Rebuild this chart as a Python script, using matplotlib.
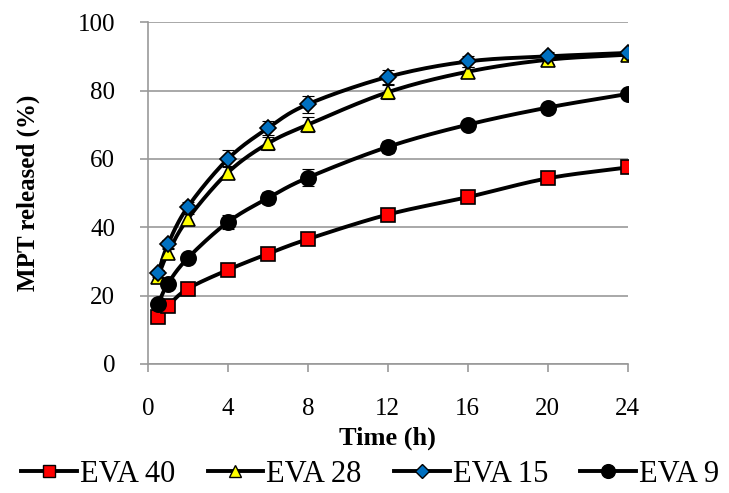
import numpy as np
import matplotlib.pyplot as plt

plt.rcParams['font.family'] = ['Liberation Serif', 'DejaVu Serif']

# release profile, sampling times in hours
time_h = [0.5, 1, 2, 4, 6, 8, 12, 16, 20, 24]

eva40 = [13.7, 17.0, 22.0, 27.5, 32.2, 36.5, 43.7, 48.8, 54.3, 57.5]
eva40_sd = [0.8, 0.8, 0.9, 1.0, 1.0, 1.0, 1.2, 1.2, 1.2, 1.2]
eva28 = [25.5, 32.5, 42.5, 56.0, 64.5, 70.0, 79.5, 85.5, 89.0, 90.5]
eva28_sd = [1.0, 1.2, 1.5, 2.0, 2.0, 2.2, 2.0, 1.5, 1.2, 1.0]
eva15 = [26.5, 35.0, 46.0, 60.0, 69.0, 76.0, 84.0, 88.5, 90.0, 91.0]
eva15_sd = [1.0, 1.2, 1.5, 2.5, 2.0, 2.5, 2.0, 1.5, 1.2, 1.0]
eva9 = [17.5, 23.5, 31.0, 41.5, 48.5, 54.5, 63.5, 70.0, 75.0, 79.0]
eva9_sd = [1.0, 1.2, 1.5, 2.0, 1.8, 2.5, 1.8, 1.2, 1.0, 1.0]


def smooth(x, y, n=20):
    # Catmull-Rom curve through the points, like a spreadsheet "smoothed line"
    x = np.asarray(x, float)
    y = np.asarray(y, float)
    px = np.concatenate([[2 * x[0] - x[1]], x, [2 * x[-1] - x[-2]]])
    py = np.concatenate([[2 * y[0] - y[1]], y, [2 * y[-1] - y[-2]]])
    xs, ys = [], []
    t = np.linspace(0, 1, n)
    for i in range(1, len(px) - 2):
        for p, out in ((px, xs), (py, ys)):
            p0, p1, p2, p3 = p[i - 1], p[i], p[i + 1], p[i + 2]
            out.append(0.5 * (2 * p1 + (-p0 + p2) * t
                              + (2 * p0 - 5 * p1 + 4 * p2 - p3) * t ** 2
                              + (-p0 + 3 * p1 - 3 * p2 + p3) * t ** 3))
    return np.concatenate(xs), np.concatenate(ys)


fig = plt.figure(figsize=(7.29, 4.93), dpi=100)
ax = fig.add_axes([0.203, 0.262, 0.658, 0.693])

series = [
    ('EVA 40', eva40, eva40_sd, 's', '#ff0000', 10),
    ('EVA 28', eva28, eva28_sd, '^', '#ffff00', 10),
    ('EVA 15', eva15, eva15_sd, 'D', '#0070c0', 8),
    ('EVA 9', eva9, eva9_sd, 'o', '#000000', 11),
]

handles = []
for name, y, sd, mk, col, ms in series:
    ax.errorbar(time_h, y, yerr=sd, fmt='none', ecolor='black',
                elinewidth=0.8, capsize=4, capthick=0.8, zorder=2)
    sx, sy = smooth(time_h, y)
    ax.plot(sx, sy, color='black', lw=2.8, zorder=3)
    ax.plot(time_h, y, ls='none', marker=mk, ms=ms, mfc=col,
            mec='black', mew=1.2, zorder=4)
    h, = ax.plot([], [], color='black', lw=2.8, marker=mk, ms=ms * 0.9,
                 mfc=col, mec='black', mew=1.0)
    handles.append((h, name))

ax.set_xlim(0, 24)
ax.set_ylim(0, 100)
ax.set_xticks(range(0, 25, 4))
ax.set_yticks(range(0, 101, 20))
ax.yaxis.grid(True, color='#999999', lw=1.2)
ax.set_axisbelow(True)
for s in ['top', 'right']:
    ax.spines[s].set_visible(False)
for s in ['left', 'bottom']:
    ax.spines[s].set_color('#999999')
    ax.spines[s].set_linewidth(1.2)
ax.tick_params(axis='both', colors='#999999', labelcolor='black',
               labelsize=18, length=5.5, width=1.2)
ax.tick_params(axis='x', pad=19)
ax.tick_params(axis='y', pad=18)

ax.set_xlabel('Time (h)', fontsize=19, fontweight='bold', labelpad=5)
ax.set_ylabel('MPT released (%)', fontsize=18, fontweight='bold', labelpad=27)

fig.legend([h for h, _ in handles], [n for _, n in handles],
           loc='center', bbox_to_anchor=(0.508, 0.038), ncol=4,
           frameon=False, fontsize=22, handlelength=1.83, borderpad=0,
           handletextpad=0.1, columnspacing=1.05)

fig.savefig('out.png', dpi=100)
